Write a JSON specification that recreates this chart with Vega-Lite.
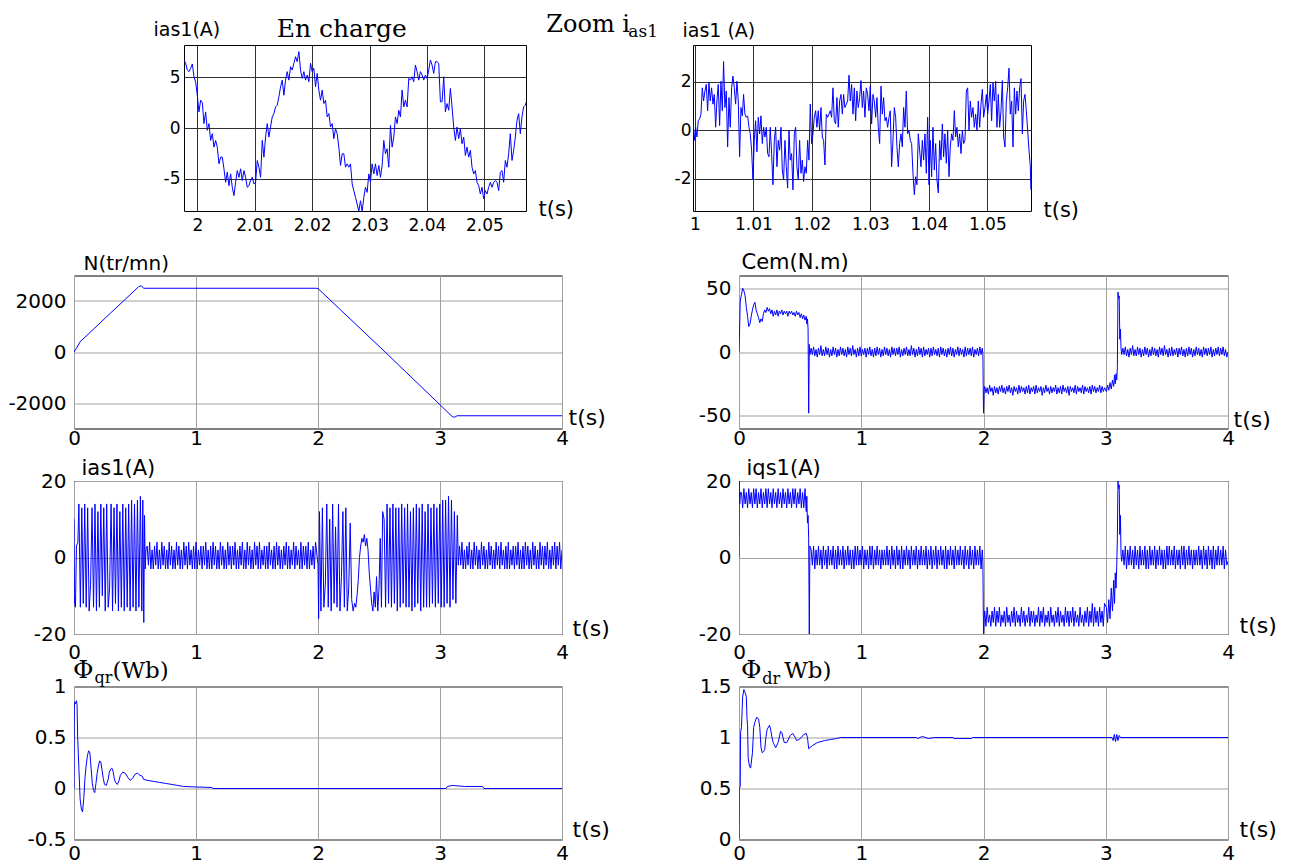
{
"$schema": "https://vega.github.io/schema/vega-lite/v6.json",
"padding": {"left": 7, "top": 12, "right": 5, "bottom": 5},
"background": "white",
"config": {
"locale": {"number": {"decimal": ".", "thousands": "", "grouping": [3], "currency": ["", ""], "minus": "-"}},
"view": {"stroke": "#000", "strokeWidth": 1},
"axis": {"domain": false, "ticks": false, "grid": true, "gridColor": "#a0a0a0", "gridWidth": 1, "labelFont": "DejaVu Sans", "labelFontSize": 20, "labelColor": "#000", "labelOverlap": false, "labelFlush": false, "titleFont": "DejaVu Sans", "titleFontSize": 21, "titleFontWeight": "normal", "titleColor": "#000", "titleAngle": 0, "titleAlign": "left", "titleBaseline": "middle"}
},
"datasets": {
"tl": [{"t":1.99768,"v":6.68},{"t":1.99797,"v":6.35},{"t":1.99826,"v":5.69},{"t":1.99855,"v":5.53},{"t":1.99884,"v":5.86},{"t":1.99913,"v":6.28},{"t":1.99942,"v":5.03},{"t":1.99971,"v":4.5},{"t":2,"v":3.2},{"t":2.00029,"v":1.58},{"t":2.00058,"v":2.73},{"t":2.00087,"v":2.5},{"t":2.00116,"v":0.43},{"t":2.00145,"v":1.58},{"t":2.00174,"v":-0.23},{"t":2.00203,"v":0.43},{"t":2.00232,"v":-1.22},{"t":2.00261,"v":-0.56},{"t":2.0029,"v":-1.88},{"t":2.00319,"v":-1.22},{"t":2.00348,"v":-1.88},{"t":2.00377,"v":-3.52},{"t":2.00406,"v":-2.86},{"t":2.00435,"v":-2.86},{"t":2.00464,"v":-4.01},{"t":2.00493,"v":-5.33},{"t":2.00522,"v":-4.34},{"t":2.00551,"v":-5.66},{"t":2.0058,"v":-4.5},{"t":2.00609,"v":-5.82},{"t":2.00638,"v":-6.64},{"t":2.00667,"v":-5.33},{"t":2.00696,"v":-4.18},{"t":2.00725,"v":-4.84},{"t":2.00754,"v":-4.01},{"t":2.00783,"v":-5.16},{"t":2.00812,"v":-4.18},{"t":2.00841,"v":-4.84},{"t":2.0087,"v":-5.82},{"t":2.00899,"v":-5.66},{"t":2.00928,"v":-5.16},{"t":2.00957,"v":-4.84},{"t":2.00986,"v":-5.49},{"t":2.01015,"v":-5.33},{"t":2.01044,"v":-3.19},{"t":2.01073,"v":-3.85},{"t":2.01102,"v":-4.84},{"t":2.01131,"v":-1.22},{"t":2.0116,"v":-2.86},{"t":2.01189,"v":-0.89},{"t":2.01218,"v":0.43},{"t":2.01247,"v":-0.89},{"t":2.01276,"v":0.1},{"t":2.01305,"v":1.09},{"t":2.01334,"v":1.41},{"t":2.01363,"v":2.07},{"t":2.01392,"v":2.24},{"t":2.01421,"v":3.06},{"t":2.0145,"v":4.05},{"t":2.01479,"v":4.7},{"t":2.01508,"v":3.22},{"t":2.01537,"v":4.7},{"t":2.01566,"v":5.53},{"t":2.01595,"v":4.7},{"t":2.01624,"v":6.02},{"t":2.01653,"v":5.69},{"t":2.01682,"v":6.35},{"t":2.01711,"v":7.0},{"t":2.0174,"v":6.51},{"t":2.01769,"v":7.5},{"t":2.01798,"v":5.69},{"t":2.01827,"v":4.87},{"t":2.01856,"v":5.53},{"t":2.01885,"v":4.7},{"t":2.01914,"v":5.2},{"t":2.01943,"v":4.54},{"t":2.01972,"v":6.35},{"t":2.02001,"v":5.53},{"t":2.0203,"v":5.86},{"t":2.02059,"v":4.05},{"t":2.02088,"v":5.36},{"t":2.02117,"v":3.72},{"t":2.02146,"v":2.73},{"t":2.02175,"v":3.72},{"t":2.02204,"v":2.4},{"t":2.02233,"v":2.73},{"t":2.02262,"v":1.09},{"t":2.02291,"v":1.41},{"t":2.0232,"v":0.1},{"t":2.02349,"v":0.43},{"t":2.02378,"v":-1.05},{"t":2.02407,"v":-0.07},{"t":2.02436,"v":-0.56},{"t":2.02465,"v":-1.88},{"t":2.02494,"v":-3.68},{"t":2.02523,"v":-2.53},{"t":2.02552,"v":-2.53},{"t":2.02581,"v":-3.85},{"t":2.0261,"v":-3.52},{"t":2.02639,"v":-3.85},{"t":2.02668,"v":-3.52},{"t":2.02697,"v":-5.49},{"t":2.02726,"v":-6.15},{"t":2.02755,"v":-6.81},{"t":2.02784,"v":-7.47},{"t":2.02813,"v":-8.19},{"t":2.02842,"v":-7.14},{"t":2.02871,"v":-8.19},{"t":2.029,"v":-6.81},{"t":2.02929,"v":-5.82},{"t":2.02958,"v":-6.32},{"t":2.02987,"v":-4.51},{"t":2.03016,"v":-5.33},{"t":2.03045,"v":-3.52},{"t":2.03074,"v":-4.51},{"t":2.03103,"v":-3.52},{"t":2.03132,"v":-4.67},{"t":2.03161,"v":-3.68},{"t":2.0319,"v":-4.84},{"t":2.03219,"v":-3.68},{"t":2.03248,"v":-1.22},{"t":2.03277,"v":-2.53},{"t":2.03306,"v":-2.04},{"t":2.03335,"v":-3.85},{"t":2.03364,"v":0.26},{"t":2.03393,"v":-1.88},{"t":2.03422,"v":-0.89},{"t":2.03451,"v":1.09},{"t":2.0348,"v":0.43},{"t":2.03509,"v":1.74},{"t":2.03538,"v":1.09},{"t":2.03567,"v":3.72},{"t":2.03596,"v":2.07},{"t":2.03625,"v":2.73},{"t":2.03654,"v":2.07},{"t":2.03683,"v":4.87},{"t":2.03712,"v":4.7},{"t":2.03741,"v":5.03},{"t":2.0377,"v":4.54},{"t":2.03799,"v":6.18},{"t":2.03828,"v":5.53},{"t":2.03857,"v":4.7},{"t":2.03886,"v":5.53},{"t":2.03915,"v":5.2},{"t":2.03944,"v":4.7},{"t":2.03973,"v":5.2},{"t":2.04002,"v":4.87},{"t":2.04031,"v":5.69},{"t":2.0406,"v":6.68},{"t":2.04089,"v":6.18},{"t":2.04118,"v":5.36},{"t":2.04147,"v":6.51},{"t":2.04176,"v":6.51},{"t":2.04205,"v":6.35},{"t":2.04234,"v":2.57},{"t":2.04263,"v":2.57},{"t":2.04292,"v":5.03},{"t":2.04321,"v":1.58},{"t":2.0435,"v":2.4},{"t":2.04379,"v":1.74},{"t":2.04408,"v":3.88},{"t":2.04437,"v":2.07},{"t":2.04466,"v":0.1},{"t":2.04495,"v":-1.22},{"t":2.04524,"v":0.1},{"t":2.04553,"v":-1.05},{"t":2.04582,"v":-0.07},{"t":2.04611,"v":-1.55},{"t":2.0464,"v":-0.89},{"t":2.04669,"v":-2.7},{"t":2.04698,"v":-1.88},{"t":2.04727,"v":-2.86},{"t":2.04756,"v":-2.2},{"t":2.04785,"v":-3.85},{"t":2.04814,"v":-4.51},{"t":2.04843,"v":-4.18},{"t":2.04872,"v":-5.33},{"t":2.04901,"v":-5.66},{"t":2.0493,"v":-6.48},{"t":2.04959,"v":-5.82},{"t":2.04988,"v":-6.97},{"t":2.05017,"v":-6.15},{"t":2.05046,"v":-6.48},{"t":2.05075,"v":-5.82},{"t":2.05104,"v":-5.33},{"t":2.05133,"v":-5.82},{"t":2.05162,"v":-5.33},{"t":2.05191,"v":-5.16},{"t":2.0522,"v":-5.33},{"t":2.05249,"v":-6.15},{"t":2.05278,"v":-4.34},{"t":2.05307,"v":-4.18},{"t":2.05336,"v":-5.33},{"t":2.05365,"v":-3.19},{"t":2.05394,"v":-3.85},{"t":2.05423,"v":-2.53},{"t":2.05452,"v":-0.56},{"t":2.05481,"v":-3.19},{"t":2.0551,"v":-2.2},{"t":2.05539,"v":-0.89},{"t":2.05568,"v":0.76},{"t":2.05597,"v":1.41},{"t":2.05626,"v":-0.56},{"t":2.05655,"v":1.09},{"t":2.05684,"v":2.07},{"t":2.05713,"v":2.24},{"t":2.05742,"v":2.73}],
"tr": [{"t":0.99967,"v":0.53},{"t":0.9999,"v":-0.42},{"t":1.00013,"v":0.12},{"t":1.00035,"v":-0.28},{"t":1.00058,"v":0.39},{"t":1.00081,"v":0.46},{"t":1.00104,"v":0.66},{"t":1.00127,"v":1.74},{"t":1.00149,"v":1.2},{"t":1.00172,"v":1.61},{"t":1.00195,"v":1.88},{"t":1.00218,"v":0.8},{"t":1.00241,"v":1.95},{"t":1.00263,"v":1.2},{"t":1.00286,"v":1.74},{"t":1.00309,"v":1.07},{"t":1.00332,"v":1.47},{"t":1.00355,"v":0.12},{"t":1.00377,"v":1.2},{"t":1.004,"v":1.88},{"t":1.00423,"v":0.19},{"t":1.00446,"v":2.01},{"t":1.00469,"v":0.8},{"t":1.00491,"v":2.82},{"t":1.00514,"v":0.93},{"t":1.00537,"v":1.61},{"t":1.0056,"v":-0.69},{"t":1.00583,"v":1.34},{"t":1.00605,"v":0.12},{"t":1.00628,"v":1.74},{"t":1.00651,"v":2.22},{"t":1.00674,"v":1.74},{"t":1.00697,"v":1.07},{"t":1.00719,"v":2.01},{"t":1.00742,"v":1.2},{"t":1.00765,"v":-1.09},{"t":1.00788,"v":0.93},{"t":1.00811,"v":0.59},{"t":1.00833,"v":1.47},{"t":1.00856,"v":0.66},{"t":1.00879,"v":0.53},{"t":1.00902,"v":0.59},{"t":1.00925,"v":0.12},{"t":1.00947,"v":-0.15},{"t":1.0097,"v":-0.82},{"t":1.00993,"v":-2.04},{"t":1.01016,"v":-0.42},{"t":1.01039,"v":0.39},{"t":1.01061,"v":-0.89},{"t":1.01084,"v":0.53},{"t":1.01107,"v":-0.15},{"t":1.0113,"v":0.59},{"t":1.01153,"v":-0.55},{"t":1.01175,"v":0.12},{"t":1.01198,"v":-0.28},{"t":1.01221,"v":0.12},{"t":1.01244,"v":-0.96},{"t":1.01267,"v":-1.09},{"t":1.01289,"v":0.12},{"t":1.01312,"v":-0.96},{"t":1.01335,"v":-2.24},{"t":1.01358,"v":-0.42},{"t":1.01381,"v":0.12},{"t":1.01403,"v":-1.5},{"t":1.01426,"v":-0.42},{"t":1.01449,"v":-0.82},{"t":1.01472,"v":0.12},{"t":1.01495,"v":-1.64},{"t":1.01517,"v":-2.04},{"t":1.0154,"v":-0.42},{"t":1.01563,"v":-1.5},{"t":1.01586,"v":-2.38},{"t":1.01609,"v":-0.01},{"t":1.01631,"v":-1.23},{"t":1.01654,"v":-0.96},{"t":1.01677,"v":-2.45},{"t":1.017,"v":-0.15},{"t":1.01723,"v":0.12},{"t":1.01745,"v":-1.5},{"t":1.01768,"v":-2.04},{"t":1.01791,"v":-0.42},{"t":1.01814,"v":-1.77},{"t":1.01837,"v":-1.23},{"t":1.01859,"v":-2.11},{"t":1.01882,"v":-1.5},{"t":1.01905,"v":-1.77},{"t":1.01928,"v":-0.42},{"t":1.01951,"v":-1.23},{"t":1.01973,"v":1.07},{"t":1.01996,"v":-0.55},{"t":1.02019,"v":-0.15},{"t":1.02042,"v":0.53},{"t":1.02065,"v":0.8},{"t":1.02087,"v":0.12},{"t":1.0211,"v":0.8},{"t":1.02133,"v":-0.01},{"t":1.02156,"v":0.93},{"t":1.02179,"v":-0.28},{"t":1.02201,"v":-0.42},{"t":1.02224,"v":-1.43},{"t":1.02247,"v":0.66},{"t":1.0227,"v":0.53},{"t":1.02293,"v":0.66},{"t":1.02315,"v":0.8},{"t":1.02338,"v":0.53},{"t":1.02361,"v":1.74},{"t":1.02384,"v":0.39},{"t":1.02407,"v":0.26},{"t":1.02429,"v":1.34},{"t":1.02452,"v":0.12},{"t":1.02475,"v":1.2},{"t":1.02498,"v":1.47},{"t":1.02521,"v":0.66},{"t":1.02543,"v":1.47},{"t":1.02566,"v":0.93},{"t":1.02589,"v":1.07},{"t":1.02612,"v":1.2},{"t":1.02635,"v":2.26},{"t":1.02657,"v":1.2},{"t":1.0268,"v":1.88},{"t":1.02703,"v":0.66},{"t":1.02726,"v":1.74},{"t":1.02749,"v":0.39},{"t":1.02771,"v":1.61},{"t":1.02794,"v":0.93},{"t":1.02817,"v":1.34},{"t":1.0284,"v":2.04},{"t":1.02863,"v":0.93},{"t":1.02885,"v":1.61},{"t":1.02908,"v":0.53},{"t":1.02931,"v":1.74},{"t":1.02954,"v":1.47},{"t":1.02977,"v":0.8},{"t":1.02999,"v":1.81},{"t":1.03022,"v":0.26},{"t":1.03045,"v":1.47},{"t":1.03068,"v":1.2},{"t":1.03091,"v":0.53},{"t":1.03113,"v":1.34},{"t":1.03136,"v":0.12},{"t":1.03159,"v":-0.55},{"t":1.03182,"v":1.81},{"t":1.03205,"v":0.66},{"t":1.03227,"v":1.34},{"t":1.0325,"v":0.39},{"t":1.03273,"v":0.53},{"t":1.03296,"v":0.12},{"t":1.03319,"v":0.53},{"t":1.03341,"v":0.8},{"t":1.03364,"v":-1.5},{"t":1.03387,"v":-0.42},{"t":1.0341,"v":0.93},{"t":1.03433,"v":0.53},{"t":1.03455,"v":-0.69},{"t":1.03478,"v":-1.5},{"t":1.03501,"v":-0.55},{"t":1.03524,"v":-0.15},{"t":1.03547,"v":-0.69},{"t":1.03569,"v":0.93},{"t":1.03592,"v":0.12},{"t":1.03615,"v":1.61},{"t":1.03638,"v":-0.15},{"t":1.03661,"v":-0.01},{"t":1.03683,"v":-0.42},{"t":1.03706,"v":-0.55},{"t":1.03729,"v":-1.77},{"t":1.03752,"v":-2.65},{"t":1.03775,"v":-1.91},{"t":1.03797,"v":-2.24},{"t":1.0382,"v":-0.15},{"t":1.03843,"v":-0.82},{"t":1.03866,"v":-1.5},{"t":1.03889,"v":-0.42},{"t":1.03911,"v":-1.23},{"t":1.03934,"v":-0.15},{"t":1.03957,"v":-1.77},{"t":1.0398,"v":0.53},{"t":1.04003,"v":-2.24},{"t":1.04025,"v":-0.42},{"t":1.04048,"v":-1.91},{"t":1.04071,"v":0.12},{"t":1.04094,"v":-1.64},{"t":1.04117,"v":-0.55},{"t":1.04139,"v":-2.04},{"t":1.04162,"v":-2.58},{"t":1.04185,"v":-0.42},{"t":1.04208,"v":-1.23},{"t":1.04231,"v":0.26},{"t":1.04253,"v":-1.09},{"t":1.04276,"v":-0.15},{"t":1.04299,"v":-1.36},{"t":1.04322,"v":-0.01},{"t":1.04345,"v":-1.91},{"t":1.04367,"v":-0.69},{"t":1.0439,"v":-0.15},{"t":1.04413,"v":-0.42},{"t":1.04436,"v":0.8},{"t":1.04459,"v":-0.28},{"t":1.04481,"v":0.12},{"t":1.04504,"v":-0.69},{"t":1.04527,"v":-0.15},{"t":1.0455,"v":-0.96},{"t":1.04573,"v":-0.01},{"t":1.04595,"v":-0.55},{"t":1.04618,"v":-0.42},{"t":1.04641,"v":1.61},{"t":1.04664,"v":1.74},{"t":1.04687,"v":-0.01},{"t":1.04709,"v":1.2},{"t":1.04732,"v":0.53},{"t":1.04755,"v":0.93},{"t":1.04778,"v":0.12},{"t":1.04801,"v":0.66},{"t":1.04823,"v":-0.01},{"t":1.04846,"v":1.2},{"t":1.04869,"v":0.12},{"t":1.04892,"v":1.07},{"t":1.04915,"v":1.68},{"t":1.04937,"v":0.53},{"t":1.0496,"v":0.93},{"t":1.04983,"v":1.47},{"t":1.05006,"v":0.66},{"t":1.05029,"v":1.2},{"t":1.05051,"v":1.88},{"t":1.05074,"v":0.39},{"t":1.05097,"v":1.95},{"t":1.0512,"v":1.2},{"t":1.05143,"v":2.01},{"t":1.05165,"v":0.12},{"t":1.05188,"v":1.47},{"t":1.05211,"v":0.12},{"t":1.05234,"v":0.8},{"t":1.05257,"v":2.04},{"t":1.05279,"v":-0.28},{"t":1.05302,"v":-0.69},{"t":1.05325,"v":1.2},{"t":1.05348,"v":1.74},{"t":1.05371,"v":2.55},{"t":1.05393,"v":0.66},{"t":1.05416,"v":1.2},{"t":1.05439,"v":-0.69},{"t":1.05462,"v":1.74},{"t":1.05485,"v":0.66},{"t":1.05507,"v":1.61},{"t":1.0553,"v":0.8},{"t":1.05553,"v":1.74},{"t":1.05576,"v":2.12},{"t":1.05599,"v":-0.15},{"t":1.05621,"v":1.2},{"t":1.05644,"v":1.47},{"t":1.05667,"v":0.8},{"t":1.0569,"v":-0.01},{"t":1.05713,"v":-0.82},{"t":1.05735,"v":-1.5},{"t":1.05745,"v":-2.45}],
"n": [{"t":0,"v":0},{"t":0.02,"v":150},{"t":0.05,"v":400},{"t":0.3,"v":1530},{"t":0.53,"v":2560},{"t":0.55,"v":2600},{"t":0.57,"v":2500},{"t":1.98,"v":2500},{"t":2.0,"v":2490},{"t":2.55,"v":0},{"t":3.1,"v":-2530},{"t":3.12,"v":-2560},{"t":3.14,"v":-2500},{"t":4,"v":-2500}],
"cem": [{"t":0,"v":0},{"t":0.005,"v":18},{"t":0.01,"v":40},{"t":0.02,"v":45},{"t":0.03,"v":50},{"t":0.04,"v":48},{"t":0.05,"v":44},{"t":0.06,"v":35},{"t":0.07,"v":28},{"t":0.08,"v":20},{"t":0.09,"v":22},{"t":0.1,"v":28},{"t":0.11,"v":33},{"t":0.12,"v":37},{"t":0.13,"v":39},{"t":0.14,"v":33},{"t":0.15,"v":30},{"t":0.16,"v":27},{"t":0.17,"v":23},{"t":0.18,"v":26},{"t":0.19,"v":24},{"t":0.2,"v":30},{"t":0.21,"v":33},{"t":0.22,"v":31},{"t":0.23,"v":35},{"t":0.24,"v":32},{"t":0.25,"v":34},{"t":0.26,"v":30},{"t":0.27,"v":33},{"t":0.28,"v":28},{"t":0.29,"v":32},{"t":0.3,"v":29},{"t":0.31,"v":33},{"t":0.32,"v":28},{"t":0.33,"v":32},{"t":0.34,"v":30},{"t":0.35,"v":33},{"t":0.36,"v":29},{"t":0.37,"v":32},{"t":0.38,"v":30},{"t":0.39,"v":32},{"t":0.4,"v":28},{"t":0.41,"v":32},{"t":0.42,"v":30},{"t":0.43,"v":32},{"t":0.44,"v":29},{"t":0.45,"v":31},{"t":0.46,"v":28},{"t":0.47,"v":32},{"t":0.48,"v":29},{"t":0.49,"v":31},{"t":0.5,"v":27},{"t":0.51,"v":30},{"t":0.52,"v":26},{"t":0.53,"v":29},{"t":0.54,"v":25},{"t":0.55,"v":28},{"t":0.555,"v":22},{"t":0.56,"v":26},{"t":0.565,"v":18},{"t":0.57,"v":-48},{"t":0.575,"v":6},{"t":0.58,"v":-2},
{"t":0.59,"v":3},{"t":0.6,"v":-2},{"t":0.61,"v":4},{"t":0.62,"v":-3},{"t":0.63,"v":2},{"t":0.64,"v":-4},{"t":0.65,"v":3},{"t":0.66,"v":-2},{"t":0.67,"v":5},{"t":0.68,"v":-3},
{"t":0.69,"v":2},{"t":0.7,"v":-3},{"t":0.71,"v":4},{"t":0.72,"v":-2},{"t":0.73,"v":3},{"t":0.74,"v":-4},{"t":0.75,"v":2},{"t":0.76,"v":-3},{"t":0.77,"v":4},{"t":0.78,"v":-2},
{"t":0.79,"v":3},{"t":0.8,"v":-4},{"t":0.81,"v":2},{"t":0.82,"v":-3},{"t":0.83,"v":4},{"t":0.84,"v":-2},{"t":0.85,"v":3},{"t":0.86,"v":-3},{"t":0.87,"v":2},{"t":0.88,"v":-4},
{"t":0.89,"v":4},{"t":0.9,"v":-2},{"t":0.91,"v":3},{"t":0.92,"v":-3},{"t":0.93,"v":5},{"t":0.94,"v":-2},{"t":0.95,"v":2},{"t":0.96,"v":-4},{"t":0.97,"v":3},{"t":0.98,"v":-3},
{"t":0.99,"v":4},{"t":1,"v":-3},{"t":1.01,"v":2},{"t":1.02,"v":-2},{"t":1.03,"v":3},{"t":1.04,"v":-4},{"t":1.05,"v":3},{"t":1.06,"v":-2},{"t":1.07,"v":4},{"t":1.08,"v":-3},
{"t":1.09,"v":2},{"t":1.1,"v":-4},{"t":1.11,"v":3},{"t":1.12,"v":-3},{"t":1.13,"v":4},{"t":1.14,"v":-2},{"t":1.15,"v":3},{"t":1.16,"v":-4},{"t":1.17,"v":2},{"t":1.18,"v":-3},
{"t":1.19,"v":4},{"t":1.2,"v":-2},{"t":1.21,"v":3},{"t":1.22,"v":-3},{"t":1.23,"v":2},{"t":1.24,"v":-4},{"t":1.25,"v":4},{"t":1.26,"v":-2},{"t":1.27,"v":3},{"t":1.28,"v":-3},
{"t":1.29,"v":3},{"t":1.3,"v":-2},{"t":1.31,"v":4},{"t":1.32,"v":-4},{"t":1.33,"v":2},{"t":1.34,"v":-3},{"t":1.35,"v":3},{"t":1.36,"v":-2},{"t":1.37,"v":4},{"t":1.38,"v":-3},
{"t":1.39,"v":2},{"t":1.4,"v":-3},{"t":1.41,"v":5},{"t":1.42,"v":-2},{"t":1.43,"v":3},{"t":1.44,"v":-4},{"t":1.45,"v":2},{"t":1.46,"v":-3},{"t":1.47,"v":4},{"t":1.48,"v":-2},
{"t":1.49,"v":3},{"t":1.5,"v":-4},{"t":1.51,"v":4},{"t":1.52,"v":-3},{"t":1.53,"v":2},{"t":1.54,"v":-2},{"t":1.55,"v":3},{"t":1.56,"v":-4},{"t":1.57,"v":3},{"t":1.58,"v":-3},
{"t":1.59,"v":4},{"t":1.6,"v":-2},{"t":1.61,"v":2},{"t":1.62,"v":-3},{"t":1.63,"v":3},{"t":1.64,"v":-4},{"t":1.65,"v":4},{"t":1.66,"v":-2},{"t":1.67,"v":3},{"t":1.68,"v":-3},
{"t":1.69,"v":2},{"t":1.7,"v":-4},{"t":1.71,"v":3},{"t":1.72,"v":-2},{"t":1.73,"v":4},{"t":1.74,"v":-3},{"t":1.75,"v":3},{"t":1.76,"v":-4},{"t":1.77,"v":2},{"t":1.78,"v":-2},
{"t":1.79,"v":4},{"t":1.8,"v":-3},{"t":1.81,"v":3},{"t":1.82,"v":-2},{"t":1.83,"v":2},{"t":1.84,"v":-4},{"t":1.85,"v":4},{"t":1.86,"v":-3},{"t":1.87,"v":3},{"t":1.88,"v":-2},
{"t":1.89,"v":3},{"t":1.9,"v":-3},{"t":1.91,"v":4},{"t":1.92,"v":-4},{"t":1.93,"v":2},{"t":1.94,"v":-2},{"t":1.95,"v":3},{"t":1.96,"v":-3},{"t":1.97,"v":4},{"t":1.98,"v":-2},{"t":1.99,"v":3},
{"t":1.995,"v":-1},{"t":2.0,"v":-48},{"t":2.005,"v":-30},
{"t":2.01,"v":-27},{"t":2.02,"v":-32},{"t":2.03,"v":-28},{"t":2.04,"v":-33},{"t":2.05,"v":-26},{"t":2.06,"v":-31},{"t":2.07,"v":-28},{"t":2.08,"v":-34},{"t":2.09,"v":-27},{"t":2.1,"v":-32},
{"t":2.11,"v":-28},{"t":2.12,"v":-33},{"t":2.13,"v":-27},{"t":2.14,"v":-31},{"t":2.15,"v":-26},{"t":2.16,"v":-32},{"t":2.17,"v":-28},{"t":2.18,"v":-33},{"t":2.19,"v":-27},{"t":2.2,"v":-31},
{"t":2.21,"v":-26},{"t":2.22,"v":-32},{"t":2.23,"v":-28},{"t":2.24,"v":-34},{"t":2.25,"v":-27},{"t":2.26,"v":-31},{"t":2.27,"v":-28},{"t":2.28,"v":-33},{"t":2.29,"v":-26},{"t":2.3,"v":-32},
{"t":2.31,"v":-27},{"t":2.32,"v":-31},{"t":2.33,"v":-28},{"t":2.34,"v":-33},{"t":2.35,"v":-27},{"t":2.36,"v":-32},{"t":2.37,"v":-26},{"t":2.38,"v":-33},{"t":2.39,"v":-28},{"t":2.4,"v":-31},
{"t":2.41,"v":-27},{"t":2.42,"v":-33},{"t":2.43,"v":-26},{"t":2.44,"v":-32},{"t":2.45,"v":-28},{"t":2.46,"v":-31},{"t":2.47,"v":-27},{"t":2.48,"v":-34},{"t":2.49,"v":-28},{"t":2.5,"v":-32},
{"t":2.51,"v":-26},{"t":2.52,"v":-31},{"t":2.53,"v":-28},{"t":2.54,"v":-33},{"t":2.55,"v":-27},{"t":2.56,"v":-32},{"t":2.57,"v":-28},{"t":2.58,"v":-31},{"t":2.59,"v":-26},{"t":2.6,"v":-33},
{"t":2.61,"v":-28},{"t":2.62,"v":-32},{"t":2.63,"v":-27},{"t":2.64,"v":-33},{"t":2.65,"v":-26},{"t":2.66,"v":-31},{"t":2.67,"v":-28},{"t":2.68,"v":-32},{"t":2.69,"v":-27},{"t":2.7,"v":-34},
{"t":2.71,"v":-27},{"t":2.72,"v":-31},{"t":2.73,"v":-28},{"t":2.74,"v":-32},{"t":2.75,"v":-26},{"t":2.76,"v":-33},{"t":2.77,"v":-27},{"t":2.78,"v":-31},{"t":2.79,"v":-28},{"t":2.8,"v":-32},
{"t":2.81,"v":-26},{"t":2.82,"v":-33},{"t":2.83,"v":-27},{"t":2.84,"v":-31},{"t":2.85,"v":-28},{"t":2.86,"v":-32},{"t":2.87,"v":-27},{"t":2.88,"v":-33},{"t":2.89,"v":-26},{"t":2.9,"v":-31},
{"t":2.91,"v":-27},{"t":2.92,"v":-32},{"t":2.93,"v":-28},{"t":2.94,"v":-31},{"t":2.95,"v":-26},{"t":2.96,"v":-32},{"t":2.97,"v":-27},{"t":2.98,"v":-31},{"t":2.99,"v":-28},
{"t":3.005,"v":-31},{"t":3.015,"v":-26},{"t":3.025,"v":-30},{"t":3.035,"v":-24},{"t":3.045,"v":-29},{"t":3.055,"v":-22},{"t":3.065,"v":-27},{"t":3.072,"v":-18},{"t":3.078,"v":-25},{"t":3.084,"v":-17},{"t":3.09,"v":-22},{"t":3.095,"v":-12},{"t":3.1,"v":47},{"t":3.105,"v":42},{"t":3.11,"v":44},{"t":3.115,"v":10},{"t":3.12,"v":18},{"t":3.125,"v":3},{"t":3.13,"v":-2},
{"t":3.14,"v":3},{"t":3.15,"v":-2},{"t":3.16,"v":4},{"t":3.17,"v":-3},{"t":3.18,"v":2},{"t":3.19,"v":-4},{"t":3.2,"v":3},{"t":3.21,"v":-2},{"t":3.22,"v":5},{"t":3.23,"v":-3},
{"t":3.24,"v":2},{"t":3.25,"v":-3},{"t":3.26,"v":4},{"t":3.27,"v":-2},{"t":3.28,"v":3},{"t":3.29,"v":-4},{"t":3.3,"v":2},{"t":3.31,"v":-3},{"t":3.32,"v":4},{"t":3.33,"v":-2},
{"t":3.34,"v":3},{"t":3.35,"v":-4},{"t":3.36,"v":2},{"t":3.37,"v":-3},{"t":3.38,"v":4},{"t":3.39,"v":-2},{"t":3.4,"v":3},{"t":3.41,"v":-3},{"t":3.42,"v":2},{"t":3.43,"v":-4},
{"t":3.44,"v":4},{"t":3.45,"v":-2},{"t":3.46,"v":3},{"t":3.47,"v":-3},{"t":3.48,"v":5},{"t":3.49,"v":-2},{"t":3.5,"v":2},{"t":3.51,"v":-4},{"t":3.52,"v":3},{"t":3.53,"v":-3},
{"t":3.54,"v":4},{"t":3.55,"v":-3},{"t":3.56,"v":2},{"t":3.57,"v":-2},{"t":3.58,"v":3},{"t":3.59,"v":-4},{"t":3.6,"v":3},{"t":3.61,"v":-2},{"t":3.62,"v":4},{"t":3.63,"v":-3},
{"t":3.64,"v":2},{"t":3.65,"v":-4},{"t":3.66,"v":3},{"t":3.67,"v":-3},{"t":3.68,"v":4},{"t":3.69,"v":-2},{"t":3.7,"v":3},{"t":3.71,"v":-4},{"t":3.72,"v":2},{"t":3.73,"v":-3},
{"t":3.74,"v":4},{"t":3.75,"v":-2},{"t":3.76,"v":3},{"t":3.77,"v":-3},{"t":3.78,"v":2},{"t":3.79,"v":-4},{"t":3.8,"v":4},{"t":3.81,"v":-2},{"t":3.82,"v":3},{"t":3.83,"v":-3},
{"t":3.84,"v":3},{"t":3.85,"v":-2},{"t":3.86,"v":4},{"t":3.87,"v":-4},{"t":3.88,"v":2},{"t":3.89,"v":-3},{"t":3.9,"v":3},{"t":3.91,"v":-2},{"t":3.92,"v":4},{"t":3.93,"v":-3},
{"t":3.94,"v":3},{"t":3.95,"v":-2},{"t":3.96,"v":4},{"t":3.97,"v":-3},{"t":3.98,"v":2},{"t":3.99,"v":-4},{"t":4,"v":0}],
"ias": [{"t":0,"v":10},{"t":0.004,"v":-12},{"t":0.012,"v":-13},{"t":0.02,"v":3},{"t":0.032,"v":4},{"t":0.04,"v":14},{"t":0.052,"v":-13},{"t":0.064,"v":13},{"t":0.076,"v":-12},{"t":0.088,"v":14},{"t":0.1,"v":-13},{"t":0.112,"v":13},{"t":0.124,"v":-14},{"t":0.136,"v":-7},{"t":0.148,"v":13},{"t":0.16,"v":-13},{"t":0.172,"v":14},{"t":0.184,"v":-14},{"t":0.196,"v":12},{"t":0.208,"v":-13},{"t":0.22,"v":14},{"t":0.232,"v":-10},{"t":0.244,"v":13},{"t":0.256,"v":-14},{"t":0.268,"v":14},{"t":0.28,"v":-13},{"t":0.292,"v":-8},{"t":0.304,"v":14},{"t":0.316,"v":-14},{"t":0.328,"v":13},{"t":0.34,"v":-12},{"t":0.352,"v":14},{"t":0.364,"v":-14},{"t":0.376,"v":12},{"t":0.388,"v":-13},{"t":0.4,"v":14},{"t":0.412,"v":-14},{"t":0.424,"v":13},{"t":0.436,"v":-13},{"t":0.448,"v":14},{"t":0.46,"v":-14},{"t":0.472,"v":15},{"t":0.484,"v":-13},{"t":0.496,"v":14},{"t":0.508,"v":-14},{"t":0.52,"v":15},{"t":0.532,"v":-13},{"t":0.544,"v":16},{"t":0.556,"v":-14},{"t":0.564,"v":15},{"t":0.572,"v":-17},{"t":0.578,"v":11},{"t":0.584,"v":-3},{"t":0.59,"v":2},
{"t":0.6,"v":3},{"t":0.61,"v":-2},{"t":0.62,"v":4},{"t":0.63,"v":-3},{"t":0.64,"v":2},{"t":0.65,"v":-3},{"t":0.66,"v":3},{"t":0.67,"v":-2},{"t":0.68,"v":4},{"t":0.69,"v":-3},
{"t":0.7,"v":2},{"t":0.71,"v":-3},{"t":0.72,"v":4},{"t":0.73,"v":-2},{"t":0.74,"v":3},{"t":0.75,"v":-3},{"t":0.76,"v":2},{"t":0.77,"v":-3},{"t":0.78,"v":4},{"t":0.79,"v":-2},
{"t":0.8,"v":3},{"t":0.81,"v":-3},{"t":0.82,"v":2},{"t":0.83,"v":-3},{"t":0.84,"v":4},{"t":0.85,"v":-2},{"t":0.86,"v":3},{"t":0.87,"v":-3},{"t":0.88,"v":2},{"t":0.89,"v":-3},
{"t":0.9,"v":4},{"t":0.91,"v":-2},{"t":0.92,"v":3},{"t":0.93,"v":-3},{"t":0.94,"v":4},{"t":0.95,"v":-2},{"t":0.96,"v":2},{"t":0.97,"v":-3},{"t":0.98,"v":3},{"t":0.99,"v":-3},
{"t":1,"v":4},{"t":1.01,"v":-3},{"t":1.02,"v":2},{"t":1.03,"v":-2},{"t":1.04,"v":3},{"t":1.05,"v":-3},{"t":1.06,"v":3},{"t":1.07,"v":-2},{"t":1.08,"v":4},{"t":1.09,"v":-3},
{"t":1.1,"v":2},{"t":1.11,"v":-3},{"t":1.12,"v":3},{"t":1.13,"v":-3},{"t":1.14,"v":4},{"t":1.15,"v":-2},{"t":1.16,"v":3},{"t":1.17,"v":-3},{"t":1.18,"v":2},{"t":1.19,"v":-3},
{"t":1.2,"v":4},{"t":1.21,"v":-2},{"t":1.22,"v":3},{"t":1.23,"v":-3},{"t":1.24,"v":2},{"t":1.25,"v":-3},{"t":1.26,"v":4},{"t":1.27,"v":-2},{"t":1.28,"v":3},{"t":1.29,"v":-3},
{"t":1.3,"v":3},{"t":1.31,"v":-2},{"t":1.32,"v":4},{"t":1.33,"v":-3},{"t":1.34,"v":2},{"t":1.35,"v":-3},{"t":1.36,"v":3},{"t":1.37,"v":-2},{"t":1.38,"v":4},{"t":1.39,"v":-3},
{"t":1.4,"v":2},{"t":1.41,"v":-3},{"t":1.42,"v":4},{"t":1.43,"v":-2},{"t":1.44,"v":3},{"t":1.45,"v":-3},{"t":1.46,"v":2},{"t":1.47,"v":-3},{"t":1.48,"v":4},{"t":1.49,"v":-2},
{"t":1.5,"v":3},{"t":1.51,"v":-3},{"t":1.52,"v":4},{"t":1.53,"v":-3},{"t":1.54,"v":2},{"t":1.55,"v":-2},{"t":1.56,"v":3},{"t":1.57,"v":-3},{"t":1.58,"v":3},{"t":1.59,"v":-3},
{"t":1.6,"v":4},{"t":1.61,"v":-2},{"t":1.62,"v":2},{"t":1.63,"v":-3},{"t":1.64,"v":3},{"t":1.65,"v":-3},{"t":1.66,"v":4},{"t":1.67,"v":-2},{"t":1.68,"v":3},{"t":1.69,"v":-3},
{"t":1.7,"v":2},{"t":1.71,"v":-3},{"t":1.72,"v":3},{"t":1.73,"v":-2},{"t":1.74,"v":4},{"t":1.75,"v":-3},{"t":1.76,"v":3},{"t":1.77,"v":-3},{"t":1.78,"v":2},{"t":1.79,"v":-2},
{"t":1.8,"v":4},{"t":1.81,"v":-3},{"t":1.82,"v":3},{"t":1.83,"v":-2},{"t":1.84,"v":2},{"t":1.85,"v":-3},{"t":1.86,"v":4},{"t":1.87,"v":-3},{"t":1.88,"v":3},{"t":1.89,"v":-2},
{"t":1.9,"v":3},{"t":1.91,"v":-3},{"t":1.92,"v":4},{"t":1.93,"v":-3},{"t":1.94,"v":2},{"t":1.95,"v":-2},{"t":1.96,"v":3},{"t":1.97,"v":-3},{"t":1.98,"v":4},
{"t":2.0,"v":-2},{"t":2.005,"v":-16},{"t":2.012,"v":12},{"t":2.024,"v":-14},{"t":2.036,"v":13},{"t":2.048,"v":-13},{"t":2.06,"v":-7},{"t":2.072,"v":14},{"t":2.084,"v":-13},{"t":2.096,"v":10},{"t":2.108,"v":-14},{"t":2.12,"v":14},{"t":2.132,"v":-12},{"t":2.144,"v":8},{"t":2.156,"v":-13},{"t":2.168,"v":14},{"t":2.18,"v":-14},{"t":2.192,"v":-5},{"t":2.204,"v":12},{"t":2.216,"v":-13},{"t":2.228,"v":13},{"t":2.24,"v":-14},{"t":2.252,"v":-8},{"t":2.264,"v":9},{"t":2.276,"v":-11},{"t":2.288,"v":-14},{"t":2.3,"v":-12},{"t":2.31,"v":-13},{"t":2.32,"v":-10},{"t":2.33,"v":-6},{"t":2.34,"v":0},{"t":2.35,"v":3},{"t":2.36,"v":5},{"t":2.37,"v":4},{"t":2.38,"v":6},{"t":2.39,"v":3},{"t":2.4,"v":5},{"t":2.41,"v":2},{"t":2.42,"v":-4},{"t":2.43,"v":-8},{"t":2.44,"v":-12},{"t":2.45,"v":-14},{"t":2.46,"v":-9},{"t":2.47,"v":-13},{"t":2.48,"v":-5},{"t":2.49,"v":-14},{"t":2.5,"v":-8},{"t":2.51,"v":5},{"t":2.52,"v":-13},{"t":2.53,"v":12},{"t":2.542,"v":10},{"t":2.554,"v":-13},{"t":2.566,"v":14},{"t":2.578,"v":-12},{"t":2.59,"v":13},{"t":2.602,"v":-13},{"t":2.614,"v":14},{"t":2.626,"v":-12},{"t":2.638,"v":13},{"t":2.65,"v":-14},{"t":2.662,"v":13},{"t":2.674,"v":-13},{"t":2.686,"v":14},{"t":2.698,"v":-12},{"t":2.71,"v":13},{"t":2.722,"v":-13},{"t":2.734,"v":14},{"t":2.746,"v":-13},{"t":2.758,"v":12},{"t":2.77,"v":-14},{"t":2.782,"v":13},{"t":2.794,"v":-13},{"t":2.806,"v":14},{"t":2.818,"v":-12},{"t":2.83,"v":13},{"t":2.842,"v":-14},{"t":2.854,"v":14},{"t":2.866,"v":-13},{"t":2.878,"v":12},{"t":2.89,"v":-13},{"t":2.902,"v":14},{"t":2.914,"v":-13},{"t":2.926,"v":13},{"t":2.938,"v":-12},{"t":2.95,"v":14},{"t":2.962,"v":-13},{"t":2.974,"v":13},{"t":2.986,"v":-12},{"t":2.998,"v":14},{"t":3.01,"v":-13},{"t":3.022,"v":15},{"t":3.034,"v":-13},{"t":3.046,"v":15},{"t":3.058,"v":-12},{"t":3.07,"v":16},{"t":3.082,"v":-13},{"t":3.094,"v":15},{"t":3.106,"v":-11},{"t":3.118,"v":12},{"t":3.13,"v":-12},{"t":3.142,"v":11},{"t":3.15,"v":-2},
{"t":3.16,"v":3},{"t":3.17,"v":-2},{"t":3.18,"v":4},{"t":3.19,"v":-3},{"t":3.2,"v":2},{"t":3.21,"v":-3},{"t":3.22,"v":3},{"t":3.23,"v":-2},{"t":3.24,"v":4},{"t":3.25,"v":-3},
{"t":3.26,"v":2},{"t":3.27,"v":-3},{"t":3.28,"v":4},{"t":3.29,"v":-2},{"t":3.3,"v":3},{"t":3.31,"v":-3},{"t":3.32,"v":2},{"t":3.33,"v":-3},{"t":3.34,"v":4},{"t":3.35,"v":-2},
{"t":3.36,"v":3},{"t":3.37,"v":-3},{"t":3.38,"v":2},{"t":3.39,"v":-3},{"t":3.4,"v":4},{"t":3.41,"v":-2},{"t":3.42,"v":3},{"t":3.43,"v":-3},{"t":3.44,"v":2},{"t":3.45,"v":-3},
{"t":3.46,"v":4},{"t":3.47,"v":-2},{"t":3.48,"v":3},{"t":3.49,"v":-3},{"t":3.5,"v":4},{"t":3.51,"v":-2},{"t":3.52,"v":2},{"t":3.53,"v":-3},{"t":3.54,"v":3},{"t":3.55,"v":-3},
{"t":3.56,"v":4},{"t":3.57,"v":-3},{"t":3.58,"v":2},{"t":3.59,"v":-2},{"t":3.6,"v":3},{"t":3.61,"v":-3},{"t":3.62,"v":3},{"t":3.63,"v":-2},{"t":3.64,"v":4},{"t":3.65,"v":-3},
{"t":3.66,"v":2},{"t":3.67,"v":-3},{"t":3.68,"v":3},{"t":3.69,"v":-3},{"t":3.7,"v":4},{"t":3.71,"v":-2},{"t":3.72,"v":3},{"t":3.73,"v":-3},{"t":3.74,"v":2},{"t":3.75,"v":-3},
{"t":3.76,"v":4},{"t":3.77,"v":-2},{"t":3.78,"v":3},{"t":3.79,"v":-3},{"t":3.8,"v":2},{"t":3.81,"v":-3},{"t":3.82,"v":4},{"t":3.83,"v":-2},{"t":3.84,"v":3},{"t":3.85,"v":-3},
{"t":3.86,"v":3},{"t":3.87,"v":-2},{"t":3.88,"v":4},{"t":3.89,"v":-3},{"t":3.9,"v":2},{"t":3.91,"v":-3},{"t":3.92,"v":3},{"t":3.93,"v":-2},{"t":3.94,"v":4},{"t":3.95,"v":-3},
{"t":3.96,"v":3},{"t":3.97,"v":-2},{"t":3.98,"v":4},{"t":3.99,"v":-3},{"t":4,"v":2}],
"iqs": [{"t":0,"v":0},{"t":0.002,"v":20},{"t":0.006,"v":14},{"t":0.012,"v":17},
{"t":0.02,"v":17},{"t":0.03,"v":13},{"t":0.04,"v":18},{"t":0.05,"v":14},{"t":0.06,"v":17},{"t":0.07,"v":13},{"t":0.08,"v":18},{"t":0.09,"v":14},{"t":0.1,"v":17},{"t":0.11,"v":13},{"t":0.12,"v":18},{"t":0.13,"v":14},{"t":0.14,"v":18},{"t":0.15,"v":13},{"t":0.16,"v":17},{"t":0.17,"v":14},{"t":0.18,"v":18},{"t":0.19,"v":13},{"t":0.2,"v":17},{"t":0.21,"v":14},{"t":0.22,"v":18},{"t":0.23,"v":13},{"t":0.24,"v":18},{"t":0.25,"v":14},{"t":0.26,"v":17},{"t":0.27,"v":13},{"t":0.28,"v":18},{"t":0.29,"v":14},{"t":0.3,"v":17},{"t":0.31,"v":13},{"t":0.32,"v":18},{"t":0.33,"v":14},{"t":0.34,"v":17},{"t":0.35,"v":13},{"t":0.36,"v":18},{"t":0.37,"v":14},{"t":0.38,"v":17},{"t":0.39,"v":13},{"t":0.4,"v":18},{"t":0.41,"v":14},{"t":0.42,"v":17},{"t":0.43,"v":13},{"t":0.44,"v":18},{"t":0.45,"v":14},{"t":0.46,"v":18},{"t":0.47,"v":13},{"t":0.48,"v":17},{"t":0.49,"v":14},{"t":0.5,"v":18},{"t":0.51,"v":13},{"t":0.52,"v":17},{"t":0.53,"v":13},{"t":0.54,"v":18},
{"t":0.55,"v":12},{"t":0.555,"v":16},{"t":0.56,"v":9},{"t":0.565,"v":11},{"t":0.57,"v":5},{"t":0.575,"v":-20},{"t":0.58,"v":3},
{"t":0.59,"v":2},{"t":0.6,"v":-2},{"t":0.61,"v":3},{"t":0.62,"v":-3},{"t":0.63,"v":2},{"t":0.64,"v":-2},{"t":0.65,"v":3},{"t":0.66,"v":-2},{"t":0.67,"v":2},{"t":0.68,"v":-3},
{"t":0.69,"v":3},{"t":0.7,"v":-2},{"t":0.71,"v":2},{"t":0.72,"v":-3},{"t":0.73,"v":3},{"t":0.74,"v":-2},{"t":0.75,"v":2},{"t":0.76,"v":-2},{"t":0.77,"v":3},{"t":0.78,"v":-3},
{"t":0.79,"v":2},{"t":0.8,"v":-3},{"t":0.81,"v":3},{"t":0.82,"v":-2},{"t":0.83,"v":2},{"t":0.84,"v":-2},{"t":0.85,"v":3},{"t":0.86,"v":-3},{"t":0.87,"v":2},{"t":0.88,"v":-2},
{"t":0.89,"v":3},{"t":0.9,"v":-2},{"t":0.91,"v":2},{"t":0.92,"v":-3},{"t":0.93,"v":2},{"t":0.94,"v":-3},{"t":0.95,"v":3},{"t":0.96,"v":-2},{"t":0.97,"v":3},{"t":0.98,"v":-2},
{"t":0.99,"v":2},{"t":1,"v":-2},{"t":1.01,"v":3},{"t":1.02,"v":-3},{"t":1.03,"v":2},{"t":1.04,"v":-2},{"t":1.05,"v":2},{"t":1.06,"v":-3},{"t":1.07,"v":3},{"t":1.08,"v":-2},
{"t":1.09,"v":3},{"t":1.1,"v":-3},{"t":1.11,"v":2},{"t":1.12,"v":-2},{"t":1.13,"v":3},{"t":1.14,"v":-2},{"t":1.15,"v":2},{"t":1.16,"v":-3},{"t":1.17,"v":2},{"t":1.18,"v":-2},
{"t":1.19,"v":2},{"t":1.2,"v":-2},{"t":1.21,"v":3},{"t":1.22,"v":-2},{"t":1.23,"v":2},{"t":1.24,"v":-3},{"t":1.25,"v":3},{"t":1.26,"v":-2},{"t":1.27,"v":2},{"t":1.28,"v":-3},
{"t":1.29,"v":3},{"t":1.3,"v":-2},{"t":1.31,"v":2},{"t":1.32,"v":-3},{"t":1.33,"v":3},{"t":1.34,"v":-3},{"t":1.35,"v":2},{"t":1.36,"v":-2},{"t":1.37,"v":3},{"t":1.38,"v":-2},
{"t":1.39,"v":2},{"t":1.4,"v":-3},{"t":1.41,"v":3},{"t":1.42,"v":-2},{"t":1.43,"v":2},{"t":1.44,"v":-2},{"t":1.45,"v":3},{"t":1.46,"v":-3},{"t":1.47,"v":2},{"t":1.48,"v":-2},
{"t":1.49,"v":3},{"t":1.5,"v":-2},{"t":1.51,"v":2},{"t":1.52,"v":-2},{"t":1.53,"v":3},{"t":1.54,"v":-3},{"t":1.55,"v":2},{"t":1.56,"v":-2},{"t":1.57,"v":3},{"t":1.58,"v":-3},
{"t":1.59,"v":2},{"t":1.6,"v":-2},{"t":1.61,"v":3},{"t":1.62,"v":-3},{"t":1.63,"v":2},{"t":1.64,"v":-2},{"t":1.65,"v":3},{"t":1.66,"v":-2},{"t":1.67,"v":2},{"t":1.68,"v":-3},
{"t":1.69,"v":3},{"t":1.7,"v":-3},{"t":1.71,"v":2},{"t":1.72,"v":-2},{"t":1.73,"v":3},{"t":1.74,"v":-2},{"t":1.75,"v":2},{"t":1.76,"v":-3},{"t":1.77,"v":3},{"t":1.78,"v":-2},
{"t":1.79,"v":2},{"t":1.8,"v":-2},{"t":1.81,"v":3},{"t":1.82,"v":-2},{"t":1.83,"v":2},{"t":1.84,"v":-3},{"t":1.85,"v":3},{"t":1.86,"v":-2},{"t":1.87,"v":2},{"t":1.88,"v":-3},
{"t":1.89,"v":3},{"t":1.9,"v":-2},{"t":1.91,"v":2},{"t":1.92,"v":-3},{"t":1.93,"v":3},{"t":1.94,"v":-2},{"t":1.95,"v":2},{"t":1.96,"v":-2},{"t":1.97,"v":3},{"t":1.98,"v":-3},{"t":1.99,"v":2},
{"t":1.995,"v":-1},{"t":2.0,"v":-20},{"t":2.005,"v":-16},
{"t":2.01,"v":-14},{"t":2.02,"v":-18},{"t":2.03,"v":-13},{"t":2.04,"v":-17},{"t":2.05,"v":-15},{"t":2.06,"v":-18},{"t":2.07,"v":-14},{"t":2.08,"v":-17},{"t":2.09,"v":-13},{"t":2.1,"v":-18},
{"t":2.11,"v":-14},{"t":2.12,"v":-17},{"t":2.13,"v":-13},{"t":2.14,"v":-18},{"t":2.15,"v":-15},{"t":2.16,"v":-17},{"t":2.17,"v":-14},{"t":2.18,"v":-18},{"t":2.19,"v":-13},{"t":2.2,"v":-17},
{"t":2.21,"v":-15},{"t":2.22,"v":-18},{"t":2.23,"v":-14},{"t":2.24,"v":-17},{"t":2.25,"v":-13},{"t":2.26,"v":-18},{"t":2.27,"v":-14},{"t":2.28,"v":-17},{"t":2.29,"v":-15},{"t":2.3,"v":-18},
{"t":2.31,"v":-13},{"t":2.32,"v":-17},{"t":2.33,"v":-14},{"t":2.34,"v":-18},{"t":2.35,"v":-15},{"t":2.36,"v":-17},{"t":2.37,"v":-13},{"t":2.38,"v":-18},{"t":2.39,"v":-14},{"t":2.4,"v":-17},
{"t":2.41,"v":-14},{"t":2.42,"v":-18},{"t":2.43,"v":-15},{"t":2.44,"v":-17},{"t":2.45,"v":-13},{"t":2.46,"v":-18},{"t":2.47,"v":-14},{"t":2.48,"v":-17},{"t":2.49,"v":-13},{"t":2.5,"v":-18},
{"t":2.51,"v":-15},{"t":2.52,"v":-17},{"t":2.53,"v":-14},{"t":2.54,"v":-18},{"t":2.55,"v":-13},{"t":2.56,"v":-17},{"t":2.57,"v":-15},{"t":2.58,"v":-18},{"t":2.59,"v":-14},{"t":2.6,"v":-17},
{"t":2.61,"v":-13},{"t":2.62,"v":-18},{"t":2.63,"v":-14},{"t":2.64,"v":-17},{"t":2.65,"v":-15},{"t":2.66,"v":-18},{"t":2.67,"v":-13},{"t":2.68,"v":-17},{"t":2.69,"v":-14},{"t":2.7,"v":-18},
{"t":2.71,"v":-14},{"t":2.72,"v":-17},{"t":2.73,"v":-13},{"t":2.74,"v":-18},{"t":2.75,"v":-14},{"t":2.76,"v":-17},{"t":2.77,"v":-15},{"t":2.78,"v":-18},{"t":2.79,"v":-13},{"t":2.8,"v":-17},
{"t":2.81,"v":-15},{"t":2.82,"v":-18},{"t":2.83,"v":-14},{"t":2.84,"v":-17},{"t":2.85,"v":-13},{"t":2.86,"v":-18},{"t":2.87,"v":-14},{"t":2.88,"v":-17},{"t":2.89,"v":-12},{"t":2.9,"v":-18},
{"t":2.91,"v":-13},{"t":2.92,"v":-17},{"t":2.93,"v":-14},{"t":2.94,"v":-18},{"t":2.95,"v":-13},{"t":2.96,"v":-17},{"t":2.97,"v":-14},{"t":2.98,"v":-18},{"t":2.99,"v":-12},
{"t":3.005,"v":-13},{"t":3.015,"v":-17},{"t":3.025,"v":-11},{"t":3.035,"v":-16},{"t":3.045,"v":-8},{"t":3.055,"v":-14},{"t":3.065,"v":-6},{"t":3.072,"v":-12},{"t":3.078,"v":-4},{"t":3.084,"v":-8},{"t":3.09,"v":-2},{"t":3.095,"v":5},{"t":3.1,"v":20},{"t":3.105,"v":18},{"t":3.11,"v":19},{"t":3.115,"v":6},{"t":3.12,"v":11},{"t":3.125,"v":1},{"t":3.13,"v":-1},
{"t":3.14,"v":2},{"t":3.15,"v":-2},{"t":3.16,"v":3},{"t":3.17,"v":-3},{"t":3.18,"v":2},{"t":3.19,"v":-2},{"t":3.2,"v":3},{"t":3.21,"v":-2},{"t":3.22,"v":2},{"t":3.23,"v":-3},
{"t":3.24,"v":3},{"t":3.25,"v":-2},{"t":3.26,"v":2},{"t":3.27,"v":-3},{"t":3.28,"v":3},{"t":3.29,"v":-2},{"t":3.3,"v":2},{"t":3.31,"v":-2},{"t":3.32,"v":3},{"t":3.33,"v":-3},
{"t":3.34,"v":2},{"t":3.35,"v":-3},{"t":3.36,"v":3},{"t":3.37,"v":-2},{"t":3.38,"v":2},{"t":3.39,"v":-2},{"t":3.4,"v":3},{"t":3.41,"v":-3},{"t":3.42,"v":2},{"t":3.43,"v":-2},
{"t":3.44,"v":3},{"t":3.45,"v":-2},{"t":3.46,"v":2},{"t":3.47,"v":-3},{"t":3.48,"v":2},{"t":3.49,"v":-3},{"t":3.5,"v":3},{"t":3.51,"v":-2},{"t":3.52,"v":3},{"t":3.53,"v":-2},
{"t":3.54,"v":2},{"t":3.55,"v":-2},{"t":3.56,"v":3},{"t":3.57,"v":-3},{"t":3.58,"v":2},{"t":3.59,"v":-2},{"t":3.6,"v":2},{"t":3.61,"v":-3},{"t":3.62,"v":3},{"t":3.63,"v":-2},
{"t":3.64,"v":3},{"t":3.65,"v":-3},{"t":3.66,"v":2},{"t":3.67,"v":-2},{"t":3.68,"v":3},{"t":3.69,"v":-2},{"t":3.7,"v":2},{"t":3.71,"v":-3},{"t":3.72,"v":2},{"t":3.73,"v":-2},
{"t":3.74,"v":2},{"t":3.75,"v":-2},{"t":3.76,"v":3},{"t":3.77,"v":-2},{"t":3.78,"v":2},{"t":3.79,"v":-3},{"t":3.8,"v":3},{"t":3.81,"v":-2},{"t":3.82,"v":2},{"t":3.83,"v":-3},
{"t":3.84,"v":3},{"t":3.85,"v":-2},{"t":3.86,"v":2},{"t":3.87,"v":-3},{"t":3.88,"v":3},{"t":3.89,"v":-3},{"t":3.9,"v":2},{"t":3.91,"v":-2},{"t":3.92,"v":3},{"t":3.93,"v":-2},
{"t":3.94,"v":2},{"t":3.95,"v":-2},{"t":3.96,"v":3},{"t":3.97,"v":-3},{"t":3.98,"v":2},{"t":3.99,"v":-2},{"t":4,"v":-1}],
"phq": [{"t":0,"v":0},{"t":0.003,"v":0.85},{"t":0.01,"v":0.83},{"t":0.02,"v":0.86},{"t":0.025,"v":0.82},{"t":0.03,"v":0.5},{"t":0.04,"v":0.2},{"t":0.05,"v":-0.1},{"t":0.06,"v":-0.2},{"t":0.07,"v":-0.23},{"t":0.08,"v":-0.1},{"t":0.09,"v":0.1},{"t":0.1,"v":0.23},{"t":0.11,"v":0.32},{"t":0.12,"v":0.37},{"t":0.13,"v":0.35},{"t":0.14,"v":0.2},{"t":0.15,"v":0.05},{"t":0.16,"v":-0.02},{"t":0.17,"v":-0.04},{"t":0.18,"v":0.05},{"t":0.19,"v":0.15},{"t":0.2,"v":0.22},{"t":0.21,"v":0.27},{"t":0.22,"v":0.26},{"t":0.23,"v":0.18},{"t":0.24,"v":0.1},{"t":0.25,"v":0.04},{"t":0.265,"v":0.03},{"t":0.28,"v":0.09},{"t":0.29,"v":0.16},{"t":0.3,"v":0.19},{"t":0.31,"v":0.2},{"t":0.32,"v":0.17},{"t":0.33,"v":0.1},{"t":0.34,"v":0.06},{"t":0.355,"v":0.04},{"t":0.37,"v":0.08},{"t":0.38,"v":0.13},{"t":0.4,"v":0.16},{"t":0.42,"v":0.15},{"t":0.44,"v":0.11},{"t":0.46,"v":0.08},{"t":0.48,"v":0.1},{"t":0.5,"v":0.14},{"t":0.52,"v":0.15},{"t":0.54,"v":0.13},{"t":0.56,"v":0.12},{"t":0.57,"v":0.09},{"t":0.6,"v":0.08},{"t":0.65,"v":0.07},{"t":0.7,"v":0.06},{"t":0.75,"v":0.05},{"t":0.8,"v":0.04},{"t":0.85,"v":0.03},{"t":0.9,"v":0.02},{"t":1.0,"v":0.015},{"t":1.13,"v":0.01},{"t":1.14,"v":0},{"t":3.05,"v":0},{"t":3.06,"v":0.02},{"t":3.1,"v":0.03},{"t":3.2,"v":0.02},{"t":3.35,"v":0.02},{"t":3.36,"v":0},{"t":4,"v":0}],
"phd": [{"t":0,"v":0},{"t":0.002,"v":0.5},{"t":0.01,"v":0.52},{"t":0.013,"v":1.05},{"t":0.02,"v":1.1},{"t":0.03,"v":1.4},{"t":0.04,"v":1.47},{"t":0.05,"v":1.44},{"t":0.06,"v":1.4},{"t":0.065,"v":1.2},{"t":0.07,"v":1.12},{"t":0.075,"v":0.8},{"t":0.085,"v":0.72},{"t":0.095,"v":0.7},{"t":0.11,"v":0.85},{"t":0.12,"v":1.1},{"t":0.13,"v":1.15},{"t":0.145,"v":1.2},{"t":0.16,"v":1.18},{"t":0.17,"v":1.1},{"t":0.18,"v":0.9},{"t":0.19,"v":0.85},{"t":0.2,"v":0.86},{"t":0.21,"v":0.88},{"t":0.22,"v":1.0},{"t":0.23,"v":1.08},{"t":0.25,"v":1.12},{"t":0.26,"v":1.07},{"t":0.27,"v":1.0},{"t":0.28,"v":0.95},{"t":0.3,"v":0.9},{"t":0.32,"v":0.95},{"t":0.34,"v":1.06},{"t":0.35,"v":1.05},{"t":0.36,"v":1.0},{"t":0.37,"v":0.95},{"t":0.39,"v":0.95},{"t":0.42,"v":1.02},{"t":0.44,"v":1.04},{"t":0.46,"v":1.0},{"t":0.47,"v":0.97},{"t":0.49,"v":0.98},{"t":0.51,"v":1.0},{"t":0.53,"v":1.03},{"t":0.55,"v":1.04},{"t":0.56,"v":1.0},{"t":0.57,"v":0.89},{"t":0.6,"v":0.92},{"t":0.64,"v":0.95},{"t":0.7,"v":0.97},{"t":0.75,"v":0.98},{"t":0.8,"v":0.99},{"t":0.83,"v":1.0},{"t":1.45,"v":1.0},{"t":1.46,"v":0.99},{"t":1.5,"v":1.01},{"t":1.55,"v":0.99},{"t":1.6,"v":1.0},{"t":1.75,"v":1.0},{"t":1.76,"v":0.99},{"t":1.8,"v":0.99},{"t":1.9,"v":0.99},{"t":1.91,"v":1.0},{"t":3.05,"v":1.0},{"t":3.06,"v":0.97},{"t":3.07,"v":1.03},{"t":3.08,"v":0.96},{"t":3.09,"v":1.03},{"t":3.1,"v":0.97},{"t":3.11,"v":1.02},{"t":3.12,"v":1.0},{"t":4,"v":1.0}]
},
"spacing": 16.5,
"vconcat": [
{"hconcat": [
{"width": 110, "height": 166, "view": {"stroke": null}, "data": {"values": []}, "mark": "point", "encoding": {}},
{"width": 342, "height": 166, "resolve": {"axis": {"x": "independent", "y": "independent"}}, "layer": [
{"data": {"name": "tl"}, "mark": {"type": "line", "color": "#0000ff", "strokeWidth": 1, "clip": true},
"encoding": {
"x": {"field": "t", "type": "quantitative", "scale": {"domain": [1.99768, 2.05725], "nice": false, "zero": false}, "axis": {"values": [2, 2.01, 2.02, 2.03, 2.04, 2.05], "format": ".2~f", "labelFontSize": 17, "labelPadding": 6, "gridColor": "#303030", "title": "t(s)", "titleFontSize": 21, "titleX": 354, "titleY": -2}},
"y": {"field": "v", "type": "quantitative", "scale": {"domain": [-8.15, 8.15], "nice": false, "zero": false}, "axis": {"values": [-5, 0, 5], "format": "d", "labelFontSize": 17, "labelPadding": 4, "gridColor": "#303030", "title": "ias1(A)", "titleFontSize": 19, "titleX": -31, "titleY": -16}}
}},
{"data": {"values": [{"s": "En charge"}]}, "mark": {"type": "text", "font": "DejaVu Serif", "fontSize": 25, "align": "center", "baseline": "alphabetic", "color": "#000"},
"encoding": {
"x": {"datum": 2.02515, "type": "quantitative", "scale": {"domain": [1.99768, 2.05725], "nice": false, "zero": false}, "axis": null},
"y": {"datum": 8.92, "type": "quantitative", "scale": {"domain": [-8.15, 8.15], "nice": false, "zero": false}, "axis": null},
"text": {"field": "s"}
}}
]},
{"width": 166.5, "height": 166, "view": {"stroke": null}, "data": {"values": []}, "mark": "point", "encoding": {}},
{"width": 338, "height": 166, "resolve": {"axis": {"x": "independent", "y": "independent"}}, "layer": [
{"data": {"name": "tr"}, "mark": {"type": "line", "color": "#0000ff", "strokeWidth": 1, "clip": true},
"encoding": {
"x": {"field": "t", "type": "quantitative", "scale": {"domain": [0.99968, 1.05747], "nice": false, "zero": false}, "axis": {"values": [1, 1.01, 1.02, 1.03, 1.04, 1.05], "format": ".2~f", "labelFontSize": 17, "labelPadding": 5, "gridColor": "#303030", "title": "t(s)", "titleFontSize": 21, "titleX": 350, "titleY": -1}},
"y": {"field": "v", "type": "quantitative", "scale": {"domain": [-3.32, 3.5], "nice": false, "zero": false}, "axis": {"values": [-2, 0, 2], "format": "d", "labelFontSize": 17, "labelPadding": 2, "gridColor": "#303030", "title": "ias1 (A)", "titleFontSize": 19, "titleX": -11, "titleY": -15}}
}},
{"data": {"values": [{"s": "Zoom i"}]}, "mark": {"type": "text", "font": "DejaVu Serif", "fontSize": 24, "align": "left", "baseline": "alphabetic", "color": "#000"},
"encoding": {
"x": {"datum": 0.9746, "type": "quantitative", "scale": {"domain": [0.99968, 1.05747], "nice": false, "zero": false}, "axis": null},
"y": {"datum": 4.03, "type": "quantitative", "scale": {"domain": [-3.32, 3.5], "nice": false, "zero": false}, "axis": null},
"text": {"field": "s"}
}},
{"data": {"values": [{"s": "as1"}]}, "mark": {"type": "text", "font": "DejaVu Serif", "fontSize": 17, "align": "left", "baseline": "alphabetic", "color": "#000"},
"encoding": {
"x": {"datum": 0.98862, "type": "quantitative", "scale": {"domain": [0.99968, 1.05747], "nice": false, "zero": false}, "axis": null},
"y": {"datum": 3.81, "type": "quantitative", "scale": {"domain": [-3.32, 3.5], "nice": false, "zero": false}, "axis": null},
"text": {"field": "s"}
}}
]}
], "spacing": 0, "bounds": "flush"},
{"spacing": 6.5, "vconcat": [
{"hconcat": [
{"width": 488, "height": 153, "data": {"name": "n"}, "mark": {"type": "line", "color": "#0000ff", "strokeWidth": 1, "clip": true},
"encoding": {
"x": {"field": "t", "type": "quantitative", "scale": {"domain": [0, 4], "nice": false, "zero": false}, "axis": {"values": [0, 1, 2, 3, 4], "format": "d", "labelPadding": 0, "title": "t(s)", "titleFontSize": 22, "titleX": 494, "titleY": -11}},
"y": {"field": "v", "type": "quantitative", "scale": {"domain": [-3000, 3000], "nice": false, "zero": false}, "axis": {"values": [-2000, 0, 2000], "format": "d", "labelPadding": 8, "title": "N(tr/mn)", "titleFontSize": 20, "titleX": 9, "titleY": -12}}
}},
{"width": 489, "height": 153, "data": {"name": "cem"}, "mark": {"type": "line", "color": "#0000ff", "strokeWidth": 1, "clip": true},
"encoding": {
"x": {"field": "t", "type": "quantitative", "scale": {"domain": [0, 4], "nice": false, "zero": false}, "axis": {"values": [0, 1, 2, 3, 4], "format": "d", "labelPadding": 0, "title": "t(s)", "titleFontSize": 22, "titleX": 494, "titleY": -9}},
"y": {"field": "v", "type": "quantitative", "scale": {"domain": [-60, 60], "nice": false, "zero": false}, "axis": {"values": [-50, 0, 50], "format": "d", "labelPadding": 8, "title": "Cem(N.m)", "titleX": 2, "titleY": -13}}
}}
], "spacing": 177, "bounds": "flush"},
{"spacing": -6.5, "vconcat": [
{"hconcat": [
{"width": 488, "height": 153, "data": {"name": "ias"}, "mark": {"type": "line", "color": "#0000ff", "strokeWidth": 1, "clip": true},
"encoding": {
"x": {"field": "t", "type": "quantitative", "scale": {"domain": [0, 4], "nice": false, "zero": false}, "axis": {"values": [0, 1, 2, 3, 4], "format": "d", "labelPadding": 8, "title": "t(s)", "titleFontSize": 22, "titleX": 498, "titleY": -6}},
"y": {"field": "v", "type": "quantitative", "scale": {"domain": [-20, 20], "nice": false, "zero": false}, "axis": {"values": [-20, 0, 20], "format": "d", "labelPadding": 8, "title": "ias1(A)", "titleX": 7, "titleY": -13}}
}},
{"width": 489, "height": 153, "data": {"name": "iqs"}, "mark": {"type": "line", "color": "#0000ff", "strokeWidth": 1, "clip": true},
"encoding": {
"x": {"field": "t", "type": "quantitative", "scale": {"domain": [0, 4], "nice": false, "zero": false}, "axis": {"values": [0, 1, 2, 3, 4], "format": "d", "labelPadding": 8, "title": "t(s)", "titleFontSize": 22, "titleX": 500, "titleY": -9}},
"y": {"field": "v", "type": "quantitative", "scale": {"domain": [-20, 20], "nice": false, "zero": false}, "axis": {"values": [-20, 0, 20], "format": "d", "labelPadding": 8, "title": "iqs1(A)", "titleX": 7, "titleY": -13}}
}}
], "spacing": 177, "bounds": "flush"},
{"hconcat": [
{"width": 488, "height": 153, "resolve": {"axis": {"x": "independent", "y": "independent"}}, "layer": [
{"data": {"name": "phq"}, "mark": {"type": "line", "color": "#0000ff", "strokeWidth": 1, "clip": true},
"encoding": {
"x": {"field": "t", "type": "quantitative", "scale": {"domain": [0, 4], "nice": false, "zero": false}, "axis": {"values": [0, 1, 2, 3, 4], "format": "d", "labelPadding": 4, "title": "t(s)", "titleFontSize": 22, "titleX": 498, "titleY": -10}},
"y": {"field": "v", "type": "quantitative", "scale": {"domain": [-0.5, 1], "nice": false, "zero": false}, "axis": {"values": [-0.5, 0, 0.5, 1], "format": "~g", "labelPadding": 8, "title": null}}
}},
{"data": {"values": [{"s": "Φ"}]}, "mark": {"type": "text", "font": "DejaVu Serif", "fontSize": 25, "align": "left", "baseline": "alphabetic", "color": "#000"},
"encoding": {
"x": {"datum": -0.008, "type": "quantitative", "scale": {"domain": [0, 4], "nice": false, "zero": false}, "axis": null},
"y": {"datum": 1.088, "type": "quantitative", "scale": {"domain": [-0.5, 1], "nice": false, "zero": false}, "axis": null},
"text": {"field": "s"}
}},
{"data": {"values": [{"s": "qr"}]}, "mark": {"type": "text", "font": "DejaVu Serif", "fontSize": 16, "align": "left", "baseline": "alphabetic", "color": "#000"},
"encoding": {
"x": {"datum": 0.168, "type": "quantitative", "scale": {"domain": [0, 4], "nice": false, "zero": false}, "axis": null},
"y": {"datum": 1.03, "type": "quantitative", "scale": {"domain": [-0.5, 1], "nice": false, "zero": false}, "axis": null},
"text": {"field": "s"}
}},
{"data": {"values": [{"s": "(Wb)"}]}, "mark": {"type": "text", "font": "DejaVu Serif", "fontSize": 23, "align": "left", "baseline": "alphabetic", "color": "#000"},
"encoding": {
"x": {"datum": 0.315, "type": "quantitative", "scale": {"domain": [0, 4], "nice": false, "zero": false}, "axis": null},
"y": {"datum": 1.088, "type": "quantitative", "scale": {"domain": [-0.5, 1], "nice": false, "zero": false}, "axis": null},
"text": {"field": "s"}
}}
]},
{"width": 489, "height": 153, "resolve": {"axis": {"x": "independent", "y": "independent"}}, "layer": [
{"data": {"name": "phd"}, "mark": {"type": "line", "color": "#0000ff", "strokeWidth": 1, "clip": true},
"encoding": {
"x": {"field": "t", "type": "quantitative", "scale": {"domain": [0, 4], "nice": false, "zero": false}, "axis": {"values": [0, 1, 2, 3, 4], "format": "d", "labelPadding": 4, "title": "t(s)", "titleFontSize": 22, "titleX": 500, "titleY": -10}},
"y": {"field": "v", "type": "quantitative", "scale": {"domain": [0, 1.5], "nice": false, "zero": false}, "axis": {"values": [0, 0.5, 1, 1.5], "format": "~g", "labelPadding": 8, "title": null}}
}},
{"data": {"values": [{"s": "Φ"}]}, "mark": {"type": "text", "font": "DejaVu Serif", "fontSize": 25, "align": "left", "baseline": "alphabetic", "color": "#000"},
"encoding": {
"x": {"datum": 0.016, "type": "quantitative", "scale": {"domain": [0, 4], "nice": false, "zero": false}, "axis": null},
"y": {"datum": 1.588, "type": "quantitative", "scale": {"domain": [0, 1.5], "nice": false, "zero": false}, "axis": null},
"text": {"field": "s"}
}},
{"data": {"values": [{"s": "dr"}]}, "mark": {"type": "text", "font": "DejaVu Serif", "fontSize": 16, "align": "left", "baseline": "alphabetic", "color": "#000"},
"encoding": {
"x": {"datum": 0.19, "type": "quantitative", "scale": {"domain": [0, 4], "nice": false, "zero": false}, "axis": null},
"y": {"datum": 1.529, "type": "quantitative", "scale": {"domain": [0, 1.5], "nice": false, "zero": false}, "axis": null},
"text": {"field": "s"}
}},
{"data": {"values": [{"s": "Wb)"}]}, "mark": {"type": "text", "font": "DejaVu Serif", "fontSize": 23, "align": "left", "baseline": "alphabetic", "color": "#000"},
"encoding": {
"x": {"datum": 0.37, "type": "quantitative", "scale": {"domain": [0, 4], "nice": false, "zero": false}, "axis": null},
"y": {"datum": 1.588, "type": "quantitative", "scale": {"domain": [0, 1.5], "nice": false, "zero": false}, "axis": null},
"text": {"field": "s"}
}}
]}
], "spacing": 177, "bounds": "flush"}
]}
]}
]
}
